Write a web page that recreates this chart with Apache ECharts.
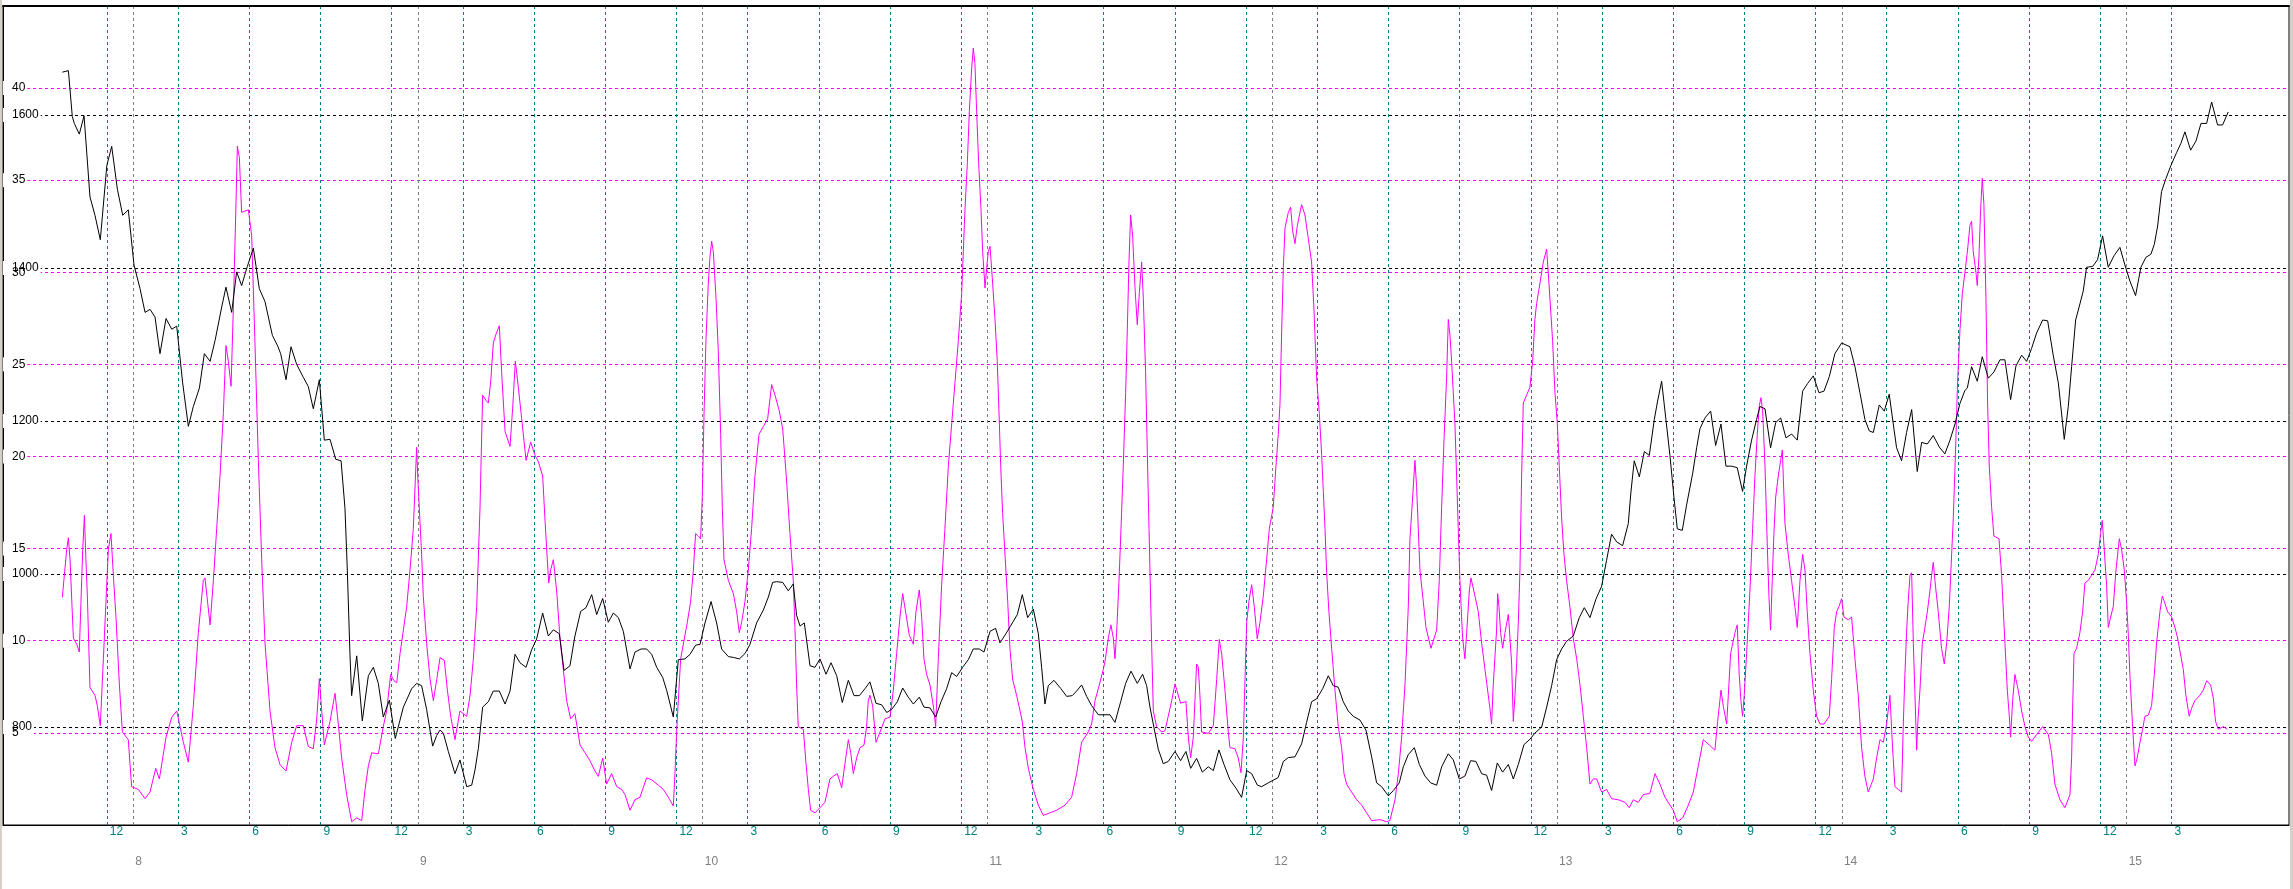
<!DOCTYPE html>
<html><head><meta charset="utf-8">
<script src="https://cdn.jsdelivr.net/npm/echarts@6/dist/echarts.min.js"></script>
<style>
html,body{margin:0;padding:0;background:#fff;overflow:hidden}
#c{width:2293px;height:889px;position:absolute;left:0;top:0}
.strip{position:absolute;top:0;height:889px;background:#d4d0c8}
</style></head><body>
<div id="c"></div>
<div class="strip" style="left:0;width:2px"></div>
<div class="strip" style="left:2290px;width:3px"></div>
<script>
// time in hours (0 = first "12" tick)
const hourTickLabels = ['12','3','6','9','12','3','6','9','12','3','6','9','12','3','6','9','12','3','6','9','12','3','6','9','12','3','6','9','12','3'];
const dayLabels = ['8','9','10','11','12','13','14','15'];
const dayOffset = 2.22;           // hours from a "12" tick to the day mark
const pinkTicks = [5,10,15,20,25,30,35,40];
const blackTicks = [800,1000,1200,1400,1600];
const pinkOverlapping = [5,30];   // labels printed over the black-axis labels

const blackSeries = [
[-3.75,1656],[-3.24,1658],[-2.91,1598],[-2.74,1589],[-2.32,1575],[-1.92,1599],[-1.42,1493],[-1.00,1469],[-0.55,1437],[0.00,1534],
[0.41,1559],[0.89,1503],[1.34,1469],[1.81,1476],[2.29,1404],[2.80,1373],[3.22,1342],[3.64,1346],[4.06,1336],[4.48,1288],
[4.99,1334],[5.47,1320],[5.89,1324],[6.39,1250],[6.87,1193],[7.29,1219],[7.80,1243],[8.22,1288],[8.70,1278],[9.12,1305],
[9.68,1349],[10.04,1375],[10.52,1342],[10.94,1395],[11.36,1377],[11.84,1402],[12.35,1426],[12.85,1373],[13.33,1356],[13.95,1312],
[14.40,1298],[14.65,1288],[15.10,1254],[15.52,1297],[16.00,1274],[16.56,1257],[16.98,1245],[17.40,1216],[17.91,1254],[18.33,1175],
[18.81,1176],[19.29,1150],[19.74,1148],[20.07,1086],[20.27,1004],[20.49,895],[20.63,841],[21.06,893],[21.53,808],[22.04,867],
[22.46,878],[22.88,857],[23.30,813],[23.81,835],[24.31,785],[24.99,826],[25.69,850],[26.11,857],[26.53,854],[26.95,823],
[27.46,775],[27.80,789],[28.08,796],[28.36,792],[28.78,768],[29.34,739],[29.76,757],[30.33,722],[30.75,724],[31.03,744],
[31.31,772],[31.67,826],[32.15,833],[32.57,847],[33.08,847],[33.56,830],[33.98,847],[34.40,895],[34.82,884],[35.33,878],
[35.80,901],[36.22,915],[36.73,949],[37.21,919],[37.63,927],[38.13,922],[38.53,874],[39.03,880],[39.45,919],[39.93,951],
[40.38,956],[40.86,973],[41.28,947],[41.79,968],[42.26,937],[42.69,949],[43.11,943],[43.53,925],[44.09,876],[44.51,898],
[45.02,902],[45.49,902],[45.92,895],[46.34,878],[46.84,865],[47.18,848],[47.74,813],[48.16,888],[48.72,889],[49.15,895],
[49.62,907],[49.99,908],[50.41,936],[50.92,964],[51.39,936],[51.81,902],[52.38,892],[52.80,891],[53.30,889],[53.78,896],
[54.20,908],[54.76,936],[55.33,953],[55.75,970],[56.11,989],[56.45,990],[56.96,989],[57.43,978],[57.85,987],[58.13,946],
[58.42,932],[58.78,936],[59.26,880],[59.68,878],[60.10,889],[60.61,869],[61.03,884],[61.51,867],[61.98,832],[62.49,861],
[62.97,841],[63.42,841],[63.89,850],[64.31,859],[64.82,831],[65.30,829],[65.72,819],[66.14,823],[66.62,833],[67.07,851],
[67.54,839],[67.97,830],[68.47,839],[68.86,826],[69.37,825],[69.85,813],[70.30,833],[70.77,850],[71.20,871],[71.62,866],
[72.12,878],[72.60,888],[73.02,902],[73.53,902],[73.92,898],[74.43,925],[74.90,929],[75.27,910],[75.77,922],[76.31,936],
[76.73,947],[77.15,973],[77.60,943],[78.08,954],[78.50,922],[78.78,878],[79.06,830],[79.34,854],[79.82,861],[80.41,850],
[80.89,840],[81.36,841],[81.73,847],[82.15,855],[82.57,840],[82.99,828],[83.56,816],[84.12,816],[84.54,816],[84.96,806],
[85.44,833],[85.86,857],[86.31,873],[86.84,857],[87.29,869],[87.63,854],[87.91,826],[88.25,799],[88.61,771],[89.03,752],
[89.45,755],[90.02,768],[90.49,756],[90.94,768],[91.34,746],[91.84,759],[92.32,741],[92.83,748],[93.25,743],[93.72,770],
[94.15,751],[94.65,731],[95.16,720],[95.63,708],[96.06,743],[96.48,739],[96.96,724],[97.32,722],[97.88,727],[98.72,734],
[99.15,755],[99.57,760],[100.13,761],[100.69,778],[101.11,806],[101.53,833],[101.96,837],[102.46,850],[102.94,867],[103.36,854],
[103.78,852],[104.20,833],[104.62,821],[105.04,814],[105.61,809],[106.11,796],[106.59,761],[107.01,727],[107.43,722],[108.00,710],
[108.42,717],[108.92,727],[109.26,748],[109.68,764],[110.19,773],[110.61,751],[111.08,736],[111.56,727],[112.07,724],[112.49,748],
[113.05,765],[113.47,757],[113.98,732],[114.46,736],[114.93,756],[115.38,755],[115.86,739],[116.28,737],[116.70,717],[117.18,753],
[117.63,741],[118.11,751],[118.53,732],[118.95,751],[119.43,777],[119.93,784],[120.35,792],[120.92,800],[121.34,826],[121.76,854],
[122.18,888],[122.60,902],[123.02,912],[123.58,919],[124.09,943],[124.51,956],[124.99,943],[125.49,967],[125.97,984],[126.39,1018],
[126.81,1052],[127.24,1042],[127.74,1037],[128.22,1066],[128.44,1107],[128.72,1148],[129.15,1127],[129.57,1160],[129.99,1155],[130.41,1202],
[130.69,1226],[131.03,1252],[131.39,1202],[131.73,1155],[132.07,1100],[132.35,1059],[132.77,1057],[133.13,1090],[133.64,1131],[133.98,1165],
[134.26,1190],[134.68,1204],[135.16,1213],[135.58,1168],[136.03,1196],[136.45,1141],[136.93,1141],[137.40,1139],[137.85,1108],[138.19,1141],
[138.61,1175],[139.03,1202],[139.31,1219],[139.74,1216],[140.21,1165],[140.64,1198],[141.06,1204],[141.51,1178],[141.98,1183],[142.46,1175],
[142.91,1239],[143.33,1249],[143.81,1259],[144.29,1237],[144.71,1239],[145.16,1258],[145.63,1288],[146.20,1302],[146.90,1297],[147.32,1271],
[147.74,1237],[148.16,1202],[148.53,1187],[148.87,1185],[149.37,1221],[149.79,1213],[150.21,1235],[150.55,1196],[150.83,1165],[151.25,1148],
[151.67,1185],[152.10,1215],[152.57,1134],[152.94,1172],[153.42,1170],[153.92,1181],[154.43,1166],[154.90,1157],[155.33,1175],[155.75,1196],
[156.17,1223],[156.59,1240],[156.79,1243],[157.15,1271],[157.63,1252],[158.05,1284],[158.56,1256],[159.03,1264],[159.54,1280],[159.96,1280],
[160.44,1228],[160.89,1272],[161.37,1286],[161.79,1278],[162.21,1295],[162.63,1315],[163.14,1332],[163.56,1331],[164.03,1286],[164.46,1250],
[164.74,1209],[164.96,1176],[165.30,1219],[165.58,1271],[165.92,1332],[166.28,1353],[166.56,1370],[166.84,1401],[167.35,1402],[167.77,1411],
[168.19,1442],[168.67,1401],[169.15,1416],[169.65,1427],[170.07,1404],[170.49,1383],[170.97,1364],[171.42,1401],[171.84,1414],[172.26,1418],
[172.55,1431],[172.83,1455],[173.16,1500],[173.53,1517],[173.95,1534],[174.43,1551],[174.79,1563],[175.13,1578],[175.61,1554],[176.06,1566],
[176.48,1589],[176.96,1589],[177.38,1617],[177.88,1587],[178.30,1587],[178.78,1604]
];

const pinkSeries = [
[-3.75,12.36],[-3.38,14.97],[-3.24,15.59],[-3.10,14.40],[-2.82,10.15],[-2.54,9.81],[-2.32,9.39],[-2.12,13.27],[-2.03,14.97],[-1.89,16.81],
[-1.78,14.69],[-1.64,12.42],[-1.42,7.46],[-1.00,7.04],[-0.80,6.47],[-0.55,5.39],[-0.29,9.02],[-0.07,12.14],[0.13,14.97],[0.35,15.82],
[0.55,13.55],[0.77,11.29],[1.06,7.60],[1.31,5.05],[1.81,4.63],[2.09,2.08],[2.66,1.93],[3.22,1.43],[3.64,1.79],[4.12,3.07],
[4.43,2.50],[4.99,4.77],[5.47,5.85],[5.89,6.19],[6.45,4.49],[6.87,3.41],[7.29,6.47],[7.71,10.44],[8.13,13.27],[8.27,13.41],
[8.70,10.86],[8.98,13.27],[9.26,16.10],[9.54,18.94],[9.82,22.34],[10.04,26.02],[10.24,25.17],[10.47,23.81],[10.66,28.00],[10.86,33.11],
[11.00,36.85],[11.17,36.22],[11.36,33.25],[11.93,33.39],[12.21,31.97],[12.49,26.02],[12.77,19.79],[13.05,14.40],[13.33,9.87],[13.75,6.19],
[14.17,4.20],[14.60,3.27],[15.10,2.93],[15.58,4.49],[16.00,5.39],[16.56,5.39],[16.98,4.26],[17.40,4.14],[17.69,5.76],[17.91,7.94],
[18.11,6.19],[18.33,4.34],[18.81,5.62],[19.23,7.15],[19.51,5.48],[19.79,3.63],[20.21,1.65],[20.63,0.18],[21.06,0.38],[21.48,0.24],
[21.76,1.93],[22.04,3.21],[22.32,3.92],[22.88,3.86],[23.30,5.34],[23.58,6.19],[23.92,8.17],[24.20,7.83],[24.43,7.72],[24.71,9.30],
[25.27,11.85],[25.55,13.84],[25.83,16.10],[26.11,20.50],[26.22,18.65],[26.53,14.69],[26.67,12.42],[26.95,9.87],[27.24,7.89],[27.52,6.75],
[27.80,7.89],[28.08,9.08],[28.44,8.94],[28.70,7.32],[28.98,5.90],[29.34,4.63],[29.76,6.19],[30.04,6.04],[30.33,5.90],[30.61,7.04],
[30.89,9.02],[31.17,11.85],[31.45,17.24],[31.67,23.33],[31.95,23.05],[32.15,22.90],[32.35,24.04],[32.57,26.16],[32.80,26.64],[33.08,27.10],
[33.27,24.60],[33.56,21.35],[33.98,20.55],[34.20,22.62],[34.43,25.17],[34.68,23.75],[34.96,22.05],[35.33,19.79],[35.72,20.78],[36.08,20.07],
[36.36,19.73],[36.73,18.94],[36.93,16.53],[37.12,14.40],[37.24,13.13],[37.40,13.84],[37.63,14.40],[37.91,12.70],[38.19,10.15],[38.47,8.45],
[38.75,6.75],[39.09,5.76],[39.45,6.04],[39.88,4.34],[40.30,3.92],[40.72,3.49],[41.14,2.93],[41.42,2.64],[41.79,3.63],[42.12,2.22],
[42.54,2.79],[42.97,2.08],[43.39,1.93],[43.67,1.65],[44.09,0.80],[44.51,1.37],[44.93,1.51],[45.49,2.56],[45.92,2.45],[46.48,2.16],
[46.90,1.93],[47.32,1.51],[47.74,1.03],[47.88,2.79],[48.02,5.05],[48.16,6.75],[48.36,9.02],[48.64,10.01],[48.92,11.00],[49.20,12.14],
[49.43,13.84],[49.62,15.82],[49.85,15.68],[50.04,15.54],[50.18,17.80],[50.33,22.34],[50.49,26.30],[50.69,29.42],[50.83,30.84],[50.97,31.69],
[51.11,31.12],[51.34,28.57],[51.53,25.74],[51.73,21.20],[51.87,17.24],[52.01,14.40],[52.38,13.27],[52.80,12.56],[53.08,11.57],[53.30,10.44],
[53.50,11.00],[53.78,12.14],[54.06,13.84],[54.34,16.10],[54.62,18.94],[54.96,21.20],[55.33,21.63],[55.69,22.05],[56.03,23.90],[56.31,23.33],
[56.67,22.48],[56.96,21.49],[57.29,18.65],[57.57,15.82],[57.85,13.27],[57.99,10.72],[58.13,7.60],[58.27,5.34],[58.70,5.19],[58.92,3.35],
[59.12,1.93],[59.31,0.80],[59.68,0.66],[60.10,0.94],[60.52,1.23],[60.94,2.50],[61.22,2.64],[61.56,2.79],[61.93,2.02],[62.21,3.35],
[62.49,4.63],[62.69,3.92],[62.91,2.79],[63.19,3.64],[63.47,4.20],[63.81,4.34],[64.03,5.34],[64.17,6.75],[64.31,7.04],[64.54,6.47],
[64.82,4.49],[65.16,5.05],[65.58,5.76],[66.00,5.85],[66.28,7.32],[66.56,9.30],[66.84,11.29],[67.07,12.56],[67.35,11.43],[67.63,10.29],
[67.97,9.81],[68.19,11.57],[68.47,12.76],[68.67,11.29],[68.86,9.02],[69.09,8.17],[69.37,7.60],[69.65,6.47],[69.85,5.34],[70.07,9.02],
[70.35,12.99],[70.63,16.10],[70.92,19.50],[71.20,21.77],[71.48,24.04],[71.76,26.30],[72.04,28.85],[72.18,31.12],[72.32,33.39],[72.52,35.94],
[72.69,38.77],[72.88,41.04],[73.02,42.17],[73.16,41.32],[73.30,38.77],[73.47,35.94],[73.67,33.39],[73.81,31.12],[74.01,29.14],[74.15,30.27],
[74.29,31.12],[74.43,31.41],[74.62,29.70],[74.85,27.44],[75.04,25.17],[75.19,22.34],[75.33,19.50],[75.49,16.95],[75.69,14.69],[75.92,12.14],
[76.11,9.59],[76.34,7.89],[76.67,7.04],[76.96,6.19],[77.15,5.62],[77.38,4.20],[77.66,3.07],[78.08,1.93],[78.50,1.08],[78.92,0.52],
[79.48,0.66],[80.05,0.80],[80.75,1.08],[81.31,1.51],[81.73,2.79],[82.15,4.49],[82.43,4.77],[82.71,5.05],[82.99,5.48],[83.28,6.75],
[83.64,7.60],[83.98,8.45],[84.12,8.88],[84.40,10.15],[84.62,10.86],[84.82,10.15],[84.96,9.02],[85.10,10.44],[85.30,13.27],[85.47,16.10],
[85.66,19.50],[85.86,23.47],[86.00,26.87],[86.14,30.56],[86.28,33.11],[86.45,31.97],[86.65,29.14],[86.84,27.15],[87.01,28.85],[87.21,30.56],
[87.35,28.57],[87.54,24.60],[87.69,20.07],[87.83,16.10],[88.05,9.87],[88.19,6.19],[88.47,5.34],[88.89,5.05],[89.17,5.11],[89.45,5.90],
[89.74,6.75],[90.02,7.66],[90.16,7.60],[90.49,6.61],[90.94,6.70],[91.14,4.77],[91.34,3.64],[91.56,4.77],[91.84,8.74],[91.98,8.59],
[92.12,7.04],[92.26,5.05],[92.83,4.97],[93.25,5.39],[93.53,7.89],[93.75,10.07],[93.95,9.30],[94.23,7.32],[94.51,5.05],[94.65,4.20],
[95.07,4.14],[95.35,3.64],[95.58,2.84],[95.78,4.77],[95.92,7.89],[96.06,11.00],[96.25,12.14],[96.48,13.04],[96.70,11.85],[96.95,10.10],
[97.18,11.00],[97.46,12.42],[97.74,14.40],[97.97,16.10],[98.30,17.24],[98.53,19.50],[98.72,21.20],[98.87,22.90],[99.01,26.87],[99.15,30.27],
[99.29,32.40],[99.57,33.25],[99.76,33.53],[99.93,32.26],[100.13,31.55],[100.33,32.54],[100.69,33.67],[100.97,33.11],[101.25,31.83],[101.53,30.56],
[101.73,28.00],[101.95,24.32],[102.18,22.34],[102.38,20.07],[102.52,18.09],[102.66,16.10],[102.80,13.69],[102.99,11.57],[103.22,9.59],[103.50,7.32],
[103.78,5.34],[104.06,4.20],[104.26,2.79],[104.48,2.22],[104.76,1.93],[105.33,1.37],[105.75,1.08],[106.17,0.66],[106.59,0.24],[107.29,0.29],
[107.85,0.18],[108.13,0.24],[108.56,1.37],[108.84,2.79],[109.12,4.77],[109.40,7.60],[109.68,11.85],[109.82,15.54],[110.02,17.52],[110.24,19.79],
[110.38,18.37],[110.52,16.10],[110.66,13.84],[110.94,12.14],[111.17,10.72],[111.59,9.59],[112.07,10.58],[112.29,13.27],[112.49,17.24],[112.69,20.92],
[112.91,24.32],[113.05,27.44],[113.19,26.59],[113.33,25.17],[113.47,23.47],[113.61,21.77],[113.75,18.94],[113.89,16.10],[114.03,13.27],[114.17,11.29],
[114.26,10.15],[114.45,9.02],[114.60,10.44],[114.82,12.70],[114.96,13.41],[115.30,12.42],[115.58,11.57],[115.86,9.87],[116.14,8.45],[116.42,7.04],
[116.56,6.33],[116.70,5.48],[116.84,7.60],[117.12,10.58],[117.21,12.56],[117.32,11.85],[117.46,10.44],[117.63,9.59],[117.83,10.44],[118.11,11.43],
[118.25,10.15],[118.39,8.74],[118.53,5.62],[118.67,7.04],[118.81,8.74],[118.95,11.00],[119.09,13.84],[119.23,18.94],[119.37,22.90],[119.65,23.33],
[119.93,23.75],[120.16,25.17],[120.35,27.44],[120.49,28.29],[120.78,29.42],[121.06,30.56],[121.34,31.26],[121.56,29.14],[121.84,26.30],[122.04,23.47],
[122.24,21.77],[122.40,19.50],[122.60,16.67],[122.80,14.69],[123.02,13.27],[123.30,11.85],[123.58,10.15],[123.87,9.02],[124.15,7.60],[124.43,5.90],
[124.71,4.20],[124.99,2.22],[125.27,2.50],[125.55,2.50],[125.97,1.79],[126.39,1.93],[126.81,1.43],[127.38,1.37],[127.94,1.23],[128.30,0.94],
[128.64,1.37],[129.06,1.23],[129.48,1.65],[130.04,1.71],[130.47,2.79],[130.89,2.22],[131.31,1.51],[131.73,1.08],[132.01,0.80],[132.35,0.18],
[132.80,0.38],[133.28,1.08],[133.70,1.79],[134.12,3.21],[134.54,4.63],[135.05,4.34],[135.52,4.06],[135.75,5.62],[136.03,7.32],[136.22,6.47],
[136.51,5.48],[136.65,7.04],[136.84,9.30],[137.21,10.44],[137.40,10.86],[137.57,8.17],[137.71,6.75],[137.85,5.90],[137.99,7.04],[138.19,9.30],
[138.47,12.70],[138.70,16.10],[138.89,18.94],[139.09,21.20],[139.26,22.76],[139.40,23.19],[139.54,22.48],[139.74,19.50],[139.93,15.25],[140.07,12.42],
[140.21,10.58],[140.35,13.27],[140.49,15.82],[140.64,17.80],[140.86,18.94],[141.06,19.79],[141.20,20.35],[141.42,16.39],[141.70,14.69],[141.98,13.27],
[142.26,11.85],[142.46,10.72],[142.69,13.27],[142.91,14.69],[143.11,13.84],[143.30,11.57],[143.53,9.30],[143.81,7.32],[144.09,5.90],[144.37,5.48],
[144.71,5.48],[145.16,5.90],[145.35,7.89],[145.58,10.72],[145.78,11.57],[145.97,11.85],[146.20,12.28],[146.39,11.29],[146.76,11.14],[147.04,11.29],
[147.32,9.02],[147.60,7.04],[147.88,4.20],[148.16,2.64],[148.44,1.79],[148.87,2.50],[149.15,3.64],[149.43,4.63],[149.71,4.49],[149.99,5.48],
[150.27,7.04],[150.49,4.20],[150.69,2.08],[150.97,1.93],[151.25,1.79],[151.39,5.34],[151.53,8.17],[151.67,10.44],[151.81,12.14],[151.96,13.55],
[152.10,13.69],[152.24,9.87],[152.38,7.04],[152.52,4.06],[152.60,5.34],[152.80,7.32],[153.00,9.87],[153.22,10.72],[153.42,11.57],[153.64,12.70],
[153.78,13.55],[153.92,14.26],[154.06,13.27],[154.34,11.57],[154.62,9.59],[154.85,8.74],[155.05,9.87],[155.27,11.85],[155.41,13.84],[155.61,16.67],
[155.80,20.35],[155.97,24.04],[156.17,26.87],[156.37,28.85],[156.59,29.99],[156.82,31.26],[157.01,32.54],[157.15,32.77],[157.29,31.12],[157.52,29.99],
[157.63,29.28],[157.77,30.84],[157.91,33.39],[158.05,35.09],[158.19,33.67],[158.36,28.57],[158.50,22.90],[158.64,19.50],[158.84,17.24],[159.03,15.68],
[159.46,15.54],[159.68,13.55],[159.96,9.87],[160.16,7.32],[160.33,5.90],[160.44,4.77],[160.61,6.75],[160.80,8.17],[161.08,7.32],[161.37,6.19],
[161.65,5.34],[161.93,4.77],[162.21,4.54],[162.63,4.91],[163.14,5.34],[163.62,4.91],[163.89,3.92],[164.17,2.22],[164.60,1.37],[165.02,0.94],
[165.44,1.65],[165.58,3.64],[165.66,6.19],[165.78,9.30],[166.00,9.59],[166.28,10.44],[166.51,11.57],[166.70,13.13],[166.98,13.27],[167.26,13.55],
[167.55,13.84],[167.83,14.69],[168.02,15.82],[168.16,16.53],[168.30,15.25],[168.53,12.99],[168.67,10.72],[168.87,11.29],[169.09,11.85],[169.32,13.84],
[169.60,15.54],[169.79,14.97],[170.02,13.84],[170.21,12.14],[170.35,10.44],[170.49,8.17],[170.72,5.34],[170.92,3.21],[171.11,3.64],[171.34,4.49],
[171.56,5.19],[171.76,5.90],[172.04,5.96],[172.32,6.47],[172.55,8.17],[172.74,9.87],[173.02,11.57],[173.22,12.42],[173.39,12.14],[173.67,11.57],
[174.01,11.29],[174.29,10.72],[174.51,10.15],[174.71,9.44],[174.99,8.45],[175.21,7.04],[175.49,5.90],[175.69,6.33],[175.97,6.75],[176.39,7.04],
[176.67,7.32],[176.96,7.83],[177.29,7.60],[177.52,6.90],[177.71,5.62],[177.94,5.19],[178.36,5.34],[178.70,5.19]
];

const hourTicks = hourTickLabels.map((_, i) => i * 6);
const dayTicks = dayLabels.map((_, i) => dayOffset + i * 24);
const FONT = 'Liberation Sans';
const X_MIN = -8.75, X_MAX = 183.9;

const chart = echarts.init(document.getElementById('c'), null, {renderer: 'canvas'});
const richY = {
  w: {backgroundColor: '#fff', padding: [1, 2, 1, 9], color: '#000', fontFamily: FONT, fontSize: 12},
  t: {padding: [1, 2, 1, 9], color: '#000', fontFamily: FONT, fontSize: 12}
};
chart.setOption({
  animation: false,
  backgroundColor: '#ffffff',
  grid: {left: 3, right: 4, top: 6, bottom: 64, show: true, borderColor: '#000', borderWidth: 1, backgroundColor: '#fff'},
  xAxis: [
    {
      type: 'value', min: X_MIN, max: X_MAX, position: 'bottom',
      axisLine: {show: true, onZero: false, lineStyle: {color: '#000', width: 1}},
      axisTick: {show: false, customValues: hourTicks},
      axisLabel: {
        customValues: hourTicks, color: '#008080', fontFamily: FONT, fontSize: 12,
        align: 'left', margin: 1, padding: [0, 0, 0, 3],
        formatter: v => hourTickLabels[Math.round(v / 6)]
      },
      splitLine: {show: true, lineStyle: {color: '#008080', type: [3, 3], width: 1}}
    },
    {
      type: 'value', min: X_MIN, max: X_MAX, position: 'bottom', offset: 30,
      axisLine: {show: false, onZero: false}, axisTick: {show: false, customValues: dayTicks},
      axisLabel: {
        customValues: dayTicks, color: '#808080', fontFamily: FONT, fontSize: 12,
        align: 'left', margin: 1, padding: [0, 0, 0, 2],
        formatter: v => dayLabels[Math.round((v - dayOffset) / 24)]
      },
      splitLine: {show: true, lineStyle: {color: '#808080', type: [3, 3], width: 1}}
    },
    {
      type: 'value', min: X_MIN, max: X_MAX, position: 'top',
      axisLine: {show: true, onZero: false, lineStyle: {color: '#000', width: 2}},
      axisTick: {show: false}, axisLabel: {show: false}, splitLine: {show: false}
    }
  ],
  yAxis: [
    {
      type: 'value', min: 671.9, max: 1742.5, position: 'left',
      axisLine: {show: true, onZero: false, lineStyle: {color: '#000'}},
      axisTick: {show: false, customValues: blackTicks},
      axisLabel: {
        inside: true, customValues: blackTicks, margin: 0, rich: richY,
        formatter: v => '{w|' + v + '}'
      },
      splitLine: {show: true, lineStyle: {color: '#000', type: [3, 3], width: 1}}
    },
    {
      type: 'value', min: 0, max: 44.45, position: 'left',
      axisLine: {show: false, onZero: false},
      axisTick: {show: false, customValues: pinkTicks},
      axisLabel: {
        inside: true, customValues: pinkTicks, margin: 0, rich: richY,
        formatter: v => (pinkOverlapping.indexOf(v) >= 0 ? '{t|' : '{w|') + v + '}'
      },
      splitLine: {show: true, lineStyle: {color: '#FF00FF', type: [3, 3], width: 1}}
    }
  ],
  series: [
    {
      type: 'line', name: 'pink', xAxisIndex: 0, yAxisIndex: 1, data: pinkSeries,
      showSymbol: false, symbol: 'none', lineStyle: {color: '#FF00FF', width: 1}, z: 3
    },
    {
      type: 'line', name: 'black', xAxisIndex: 0, yAxisIndex: 0, data: blackSeries,
      showSymbol: false, symbol: 'none', lineStyle: {color: '#000', width: 1}, z: 4
    }
  ]
});
</script>
</body></html>
